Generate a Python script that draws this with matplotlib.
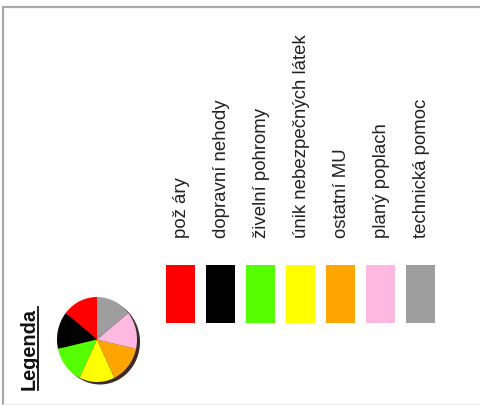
import matplotlib
matplotlib.use("Agg")
import matplotlib.pyplot as plt
from matplotlib.patches import Ellipse

categories = ["pož áry", "dopravní nehody", "živelní pohromy", "únik nebezpečných látek",
              "ostatní MU", "planý poplach", "technická pomoc"]
colors = ["#ff0000", "#000000", "#55ff00", "#ffff00", "#ffa500", "#ffb9e1", "#9e9e9e"]
pie_values = [1, 1, 1, 1, 1, 1, 1]
legend_title = "Legenda"

W, H = 481, 405
fig = plt.figure(figsize=(W / 100, H / 100), dpi=100)
ax = fig.add_axes([0, 0, 1, 1])
ax.set_xlim(0, W)
ax.set_ylim(H, 0)
ax.axis("off")

# frame
ax.plot([3, 3, W], [H, 7, 7], color="#a8a8a8", lw=1.6, solid_capstyle="butt")
ax.plot([3, W], [403.5, 403.5], color="#ececec", lw=1.0)

# swatches
x0, step = 181, 40
xs = [x0 + step * i for i in range(len(categories))]
ax.bar(xs, [58] * len(xs), bottom=265, width=29, color=colors, edgecolor="none")

# labels
for x, lab in zip(xs, categories):
    ax.text(x + 1, 238, lab, rotation=90, ha="center", va="bottom",
            fontsize=13.4, family="Liberation Sans", color="#222222")

# Legenda title
ax.text(29.5, 390, legend_title, rotation=90, ha="center", va="bottom",
        fontsize=14.3, fontweight="bold", family="Liberation Sans", color="#111111")
ax.plot([38.5, 38.5], [307, 390], color="#111111", lw=1.3)

# pie
cx, cy, rx, ry = 97, 339.5, 40, 42.5
pad = 5
pax = fig.add_axes([(cx - rx) / W, (H - cy - ry - pad) / H,
                    (2 * rx + pad) / W, (2 * ry + pad) / H])
pax.pie(pie_values, colors=colors, startangle=90, counterclock=True, radius=1,
        wedgeprops=dict(linewidth=0))
pax.add_patch(Ellipse((3 / rx, -2.5 / ry), 2, 2, facecolor="#3d2a2a",
                      edgecolor="none", zorder=0))
pax.set_aspect("auto")
pax.set_xlim(-1, 1 + pad / rx)
pax.set_ylim(-1 - pad / ry, 1)
pax.axis("off")

fig.savefig("out.png", dpi=100)
